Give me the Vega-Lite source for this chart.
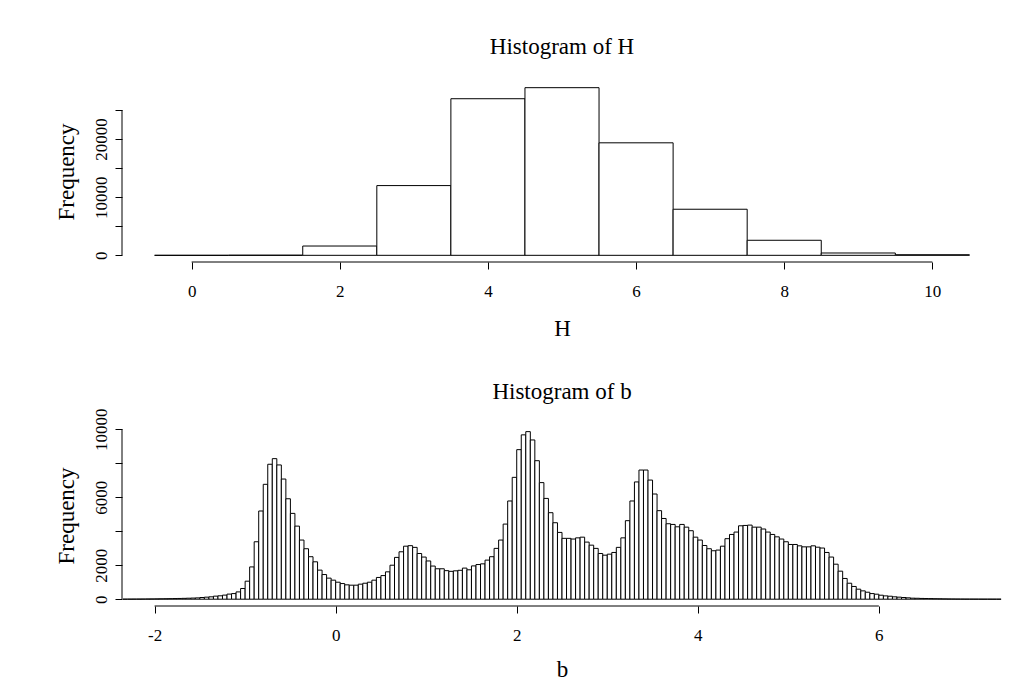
{
  "$schema": "https://vega.github.io/schema/vega-lite/v6.json",
  "background": "white",
  "padding": {"left": 55, "top": 36, "right": 5, "bottom": 0},
  "spacing": 40,
  "config": {
    "font": "Liberation Serif",
    "view": {"stroke": null},
    "axis": {"grid": false, "domain": false, "tickColor": "black", "labelColor": "black", "titleColor": "black", "titleFontWeight": "normal", "labelFontSize": 17, "titleFontSize": 23, "tickSize": 7, "labelFont": "Liberation Serif", "titleFont": "Liberation Serif", "labelOverlap": false},
    "title": {"fontSize": 23, "fontWeight": "normal", "color": "black", "font": "Liberation Serif"}
  },
  "vconcat": [
    {
      "title": {"text": "Histogram of H", "offset": 22, "frame": "group"},
      "width": 880,
      "height": 181,
      "data": {"values": [
        {"lo": -0.5, "hi": 0.5, "n": 0},
        {"lo": 0.5, "hi": 1.5, "n": 20},
        {"lo": 1.5, "hi": 2.5, "n": 1600},
        {"lo": 2.5, "hi": 3.5, "n": 12000},
        {"lo": 3.5, "hi": 4.5, "n": 26950},
        {"lo": 4.5, "hi": 5.5, "n": 28850},
        {"lo": 5.5, "hi": 6.5, "n": 19360},
        {"lo": 6.5, "hi": 7.5, "n": 7930},
        {"lo": 7.5, "hi": 8.5, "n": 2590},
        {"lo": 8.5, "hi": 9.5, "n": 400},
        {"lo": 9.5, "hi": 10.5, "n": 100}
      ]},
      "layer": [
        {
          "mark": {"type": "rect", "fill": "white", "stroke": "black", "strokeWidth": 1},
          "encoding": {
            "x": {"field": "lo", "type": "quantitative", "scale": {"domain": [-0.94, 10.94], "nice": false, "zero": false},
                  "axis": {"values": [0, 2, 4, 6, 8, 10], "tickCount": 30, "labelExpr": "'' + datum.value", "labelOverlap": false, "title": "H", "labelPadding": 14, "titlePadding": 18}},
            "x2": {"field": "hi"},
            "y": {"field": "n", "type": "quantitative", "scale": {"domain": [-1150, 30000], "nice": false, "zero": false},
                  "axis": {"values": [0, 5000, 10000, 15000, 20000, 25000], "tickCount": 30, "labelExpr": "datum.value % 10000 === 0 ? '' + datum.value : ''", "labelOverlap": false, "labelAngle": -90, "labelAlign": "center", "labelBaseline": "bottom", "labelPadding": 5, "title": "Frequency", "titlePadding": 14}},
            "y2": {"datum": 0}
          }
        },
        {
          "data": {"values": [{}]},
          "mark": {"type": "rule", "color": "black", "strokeWidth": 1},
          "encoding": {"x": {"datum": 0}, "x2": {"datum": 10}, "y": {"datum": -1150}}
        },
        {
          "data": {"values": [{}]},
          "mark": {"type": "rule", "color": "black", "strokeWidth": 1},
          "encoding": {"x": {"datum": -0.94}, "y": {"datum": 0}, "y2": {"datum": 25000}}
        }
      ]
    },
    {
      "title": {"text": "Histogram of b", "offset": 4, "frame": "group"},
      "width": 880,
      "height": 181,
      "data": {"values": [
        {"lo": -2.35, "hi": -2.3, "n": 2},
        {"lo": -2.3, "hi": -2.25, "n": 4},
        {"lo": -2.25, "hi": -2.2, "n": 6},
        {"lo": -2.2, "hi": -2.15, "n": 8},
        {"lo": -2.15, "hi": -2.1, "n": 10},
        {"lo": -2.1, "hi": -2.05, "n": 13},
        {"lo": -2.05, "hi": -2.0, "n": 16},
        {"lo": -2.0, "hi": -1.95, "n": 20},
        {"lo": -1.95, "hi": -1.9, "n": 24},
        {"lo": -1.9, "hi": -1.85, "n": 28},
        {"lo": -1.85, "hi": -1.8, "n": 33},
        {"lo": -1.8, "hi": -1.75, "n": 38},
        {"lo": -1.75, "hi": -1.7, "n": 44},
        {"lo": -1.7, "hi": -1.65, "n": 50},
        {"lo": -1.65, "hi": -1.6, "n": 58},
        {"lo": -1.6, "hi": -1.55, "n": 67},
        {"lo": -1.55, "hi": -1.5, "n": 78},
        {"lo": -1.5, "hi": -1.45, "n": 100},
        {"lo": -1.45, "hi": -1.4, "n": 120},
        {"lo": -1.4, "hi": -1.35, "n": 140},
        {"lo": -1.35, "hi": -1.3, "n": 180},
        {"lo": -1.3, "hi": -1.25, "n": 200},
        {"lo": -1.25, "hi": -1.2, "n": 240},
        {"lo": -1.2, "hi": -1.15, "n": 300},
        {"lo": -1.15, "hi": -1.1, "n": 330},
        {"lo": -1.1, "hi": -1.05, "n": 430},
        {"lo": -1.05, "hi": -1.0, "n": 630},
        {"lo": -1.0, "hi": -0.95, "n": 1060},
        {"lo": -0.95, "hi": -0.9, "n": 1900},
        {"lo": -0.9, "hi": -0.85, "n": 3380},
        {"lo": -0.85, "hi": -0.8, "n": 5190},
        {"lo": -0.8, "hi": -0.75, "n": 6760},
        {"lo": -0.75, "hi": -0.7, "n": 7940},
        {"lo": -0.7, "hi": -0.65, "n": 8270},
        {"lo": -0.65, "hi": -0.6, "n": 7900},
        {"lo": -0.6, "hi": -0.55, "n": 7070},
        {"lo": -0.55, "hi": -0.5, "n": 5910},
        {"lo": -0.5, "hi": -0.45, "n": 5050},
        {"lo": -0.45, "hi": -0.4, "n": 4300},
        {"lo": -0.4, "hi": -0.35, "n": 3480},
        {"lo": -0.35, "hi": -0.3, "n": 2970},
        {"lo": -0.3, "hi": -0.25, "n": 2500},
        {"lo": -0.25, "hi": -0.2, "n": 2200},
        {"lo": -0.2, "hi": -0.15, "n": 1710},
        {"lo": -0.15, "hi": -0.1, "n": 1450},
        {"lo": -0.1, "hi": -0.05, "n": 1240},
        {"lo": -0.05, "hi": 0.0, "n": 1120},
        {"lo": 0.0, "hi": 0.05, "n": 1000},
        {"lo": 0.05, "hi": 0.1, "n": 920},
        {"lo": 0.1, "hi": 0.15, "n": 845},
        {"lo": 0.15, "hi": 0.2, "n": 825},
        {"lo": 0.2, "hi": 0.25, "n": 825},
        {"lo": 0.25, "hi": 0.3, "n": 885},
        {"lo": 0.3, "hi": 0.35, "n": 940},
        {"lo": 0.35, "hi": 0.4, "n": 1000},
        {"lo": 0.4, "hi": 0.45, "n": 1120},
        {"lo": 0.45, "hi": 0.5, "n": 1280},
        {"lo": 0.5, "hi": 0.55, "n": 1390},
        {"lo": 0.55, "hi": 0.6, "n": 1610},
        {"lo": 0.6, "hi": 0.65, "n": 2000},
        {"lo": 0.65, "hi": 0.7, "n": 2460},
        {"lo": 0.7, "hi": 0.75, "n": 2790},
        {"lo": 0.75, "hi": 0.8, "n": 3120},
        {"lo": 0.8, "hi": 0.85, "n": 3150},
        {"lo": 0.85, "hi": 0.9, "n": 3050},
        {"lo": 0.9, "hi": 0.95, "n": 2690},
        {"lo": 0.95, "hi": 1.0, "n": 2480},
        {"lo": 1.0, "hi": 1.05, "n": 2250},
        {"lo": 1.05, "hi": 1.1, "n": 1950},
        {"lo": 1.1, "hi": 1.15, "n": 1790},
        {"lo": 1.15, "hi": 1.2, "n": 1790},
        {"lo": 1.2, "hi": 1.25, "n": 1680},
        {"lo": 1.25, "hi": 1.3, "n": 1640},
        {"lo": 1.3, "hi": 1.35, "n": 1670},
        {"lo": 1.35, "hi": 1.4, "n": 1700},
        {"lo": 1.4, "hi": 1.45, "n": 1830},
        {"lo": 1.45, "hi": 1.5, "n": 1730},
        {"lo": 1.5, "hi": 1.55, "n": 1960},
        {"lo": 1.55, "hi": 1.6, "n": 2040},
        {"lo": 1.6, "hi": 1.65, "n": 2080},
        {"lo": 1.65, "hi": 1.7, "n": 2300},
        {"lo": 1.7, "hi": 1.75, "n": 2500},
        {"lo": 1.75, "hi": 1.8, "n": 2990},
        {"lo": 1.8, "hi": 1.85, "n": 3480},
        {"lo": 1.85, "hi": 1.9, "n": 4420},
        {"lo": 1.9, "hi": 1.95, "n": 5780},
        {"lo": 1.95, "hi": 2.0, "n": 7170},
        {"lo": 2.0, "hi": 2.05, "n": 8800},
        {"lo": 2.05, "hi": 2.1, "n": 9670},
        {"lo": 2.1, "hi": 2.15, "n": 9860},
        {"lo": 2.15, "hi": 2.2, "n": 9370},
        {"lo": 2.2, "hi": 2.25, "n": 8150},
        {"lo": 2.25, "hi": 2.3, "n": 6860},
        {"lo": 2.3, "hi": 2.35, "n": 5930},
        {"lo": 2.35, "hi": 2.4, "n": 5090},
        {"lo": 2.4, "hi": 2.45, "n": 4500},
        {"lo": 2.45, "hi": 2.5, "n": 3930},
        {"lo": 2.5, "hi": 2.55, "n": 3580},
        {"lo": 2.55, "hi": 2.6, "n": 3580},
        {"lo": 2.6, "hi": 2.65, "n": 3540},
        {"lo": 2.65, "hi": 2.7, "n": 3610},
        {"lo": 2.7, "hi": 2.75, "n": 3650},
        {"lo": 2.75, "hi": 2.8, "n": 3360},
        {"lo": 2.8, "hi": 2.85, "n": 3180},
        {"lo": 2.85, "hi": 2.9, "n": 2990},
        {"lo": 2.9, "hi": 2.95, "n": 2690},
        {"lo": 2.95, "hi": 3.0, "n": 2590},
        {"lo": 3.0, "hi": 3.05, "n": 2650},
        {"lo": 3.05, "hi": 3.1, "n": 2750},
        {"lo": 3.1, "hi": 3.15, "n": 3050},
        {"lo": 3.15, "hi": 3.2, "n": 3610},
        {"lo": 3.2, "hi": 3.25, "n": 4620},
        {"lo": 3.25, "hi": 3.3, "n": 5780},
        {"lo": 3.3, "hi": 3.35, "n": 6900},
        {"lo": 3.35, "hi": 3.4, "n": 7600},
        {"lo": 3.4, "hi": 3.45, "n": 7600},
        {"lo": 3.45, "hi": 3.5, "n": 7010},
        {"lo": 3.5, "hi": 3.55, "n": 6190},
        {"lo": 3.55, "hi": 3.6, "n": 5210},
        {"lo": 3.6, "hi": 3.65, "n": 4750},
        {"lo": 3.65, "hi": 3.7, "n": 4440},
        {"lo": 3.7, "hi": 3.75, "n": 4400},
        {"lo": 3.75, "hi": 3.8, "n": 4260},
        {"lo": 3.8, "hi": 3.85, "n": 4400},
        {"lo": 3.85, "hi": 3.9, "n": 4240},
        {"lo": 3.9, "hi": 3.95, "n": 4030},
        {"lo": 3.95, "hi": 4.0, "n": 3650},
        {"lo": 4.0, "hi": 4.05, "n": 3480},
        {"lo": 4.05, "hi": 4.1, "n": 3160},
        {"lo": 4.1, "hi": 4.15, "n": 2970},
        {"lo": 4.15, "hi": 4.2, "n": 2850},
        {"lo": 4.2, "hi": 4.25, "n": 2890},
        {"lo": 4.25, "hi": 4.3, "n": 3120},
        {"lo": 4.3, "hi": 4.35, "n": 3560},
        {"lo": 4.35, "hi": 4.4, "n": 3810},
        {"lo": 4.4, "hi": 4.45, "n": 3950},
        {"lo": 4.45, "hi": 4.5, "n": 4320},
        {"lo": 4.5, "hi": 4.55, "n": 4340},
        {"lo": 4.55, "hi": 4.6, "n": 4360},
        {"lo": 4.6, "hi": 4.65, "n": 4240},
        {"lo": 4.65, "hi": 4.7, "n": 4240},
        {"lo": 4.7, "hi": 4.75, "n": 4130},
        {"lo": 4.75, "hi": 4.8, "n": 3950},
        {"lo": 4.8, "hi": 4.85, "n": 3810},
        {"lo": 4.85, "hi": 4.9, "n": 3670},
        {"lo": 4.9, "hi": 4.95, "n": 3540},
        {"lo": 4.95, "hi": 5.0, "n": 3380},
        {"lo": 5.0, "hi": 5.05, "n": 3220},
        {"lo": 5.05, "hi": 5.1, "n": 3220},
        {"lo": 5.1, "hi": 5.15, "n": 3140},
        {"lo": 5.15, "hi": 5.2, "n": 3080},
        {"lo": 5.2, "hi": 5.25, "n": 3080},
        {"lo": 5.25, "hi": 5.3, "n": 3140},
        {"lo": 5.3, "hi": 5.35, "n": 3060},
        {"lo": 5.35, "hi": 5.4, "n": 3010},
        {"lo": 5.4, "hi": 5.45, "n": 2750},
        {"lo": 5.45, "hi": 5.5, "n": 2480},
        {"lo": 5.5, "hi": 5.55, "n": 2060},
        {"lo": 5.55, "hi": 5.6, "n": 1650},
        {"lo": 5.6, "hi": 5.65, "n": 1220},
        {"lo": 5.65, "hi": 5.7, "n": 940},
        {"lo": 5.7, "hi": 5.75, "n": 750},
        {"lo": 5.75, "hi": 5.8, "n": 590},
        {"lo": 5.8, "hi": 5.85, "n": 490},
        {"lo": 5.85, "hi": 5.9, "n": 410},
        {"lo": 5.9, "hi": 5.95, "n": 330},
        {"lo": 5.95, "hi": 6.0, "n": 295},
        {"lo": 6.0, "hi": 6.05, "n": 235},
        {"lo": 6.05, "hi": 6.1, "n": 195},
        {"lo": 6.1, "hi": 6.15, "n": 175},
        {"lo": 6.15, "hi": 6.2, "n": 140},
        {"lo": 6.2, "hi": 6.25, "n": 120},
        {"lo": 6.25, "hi": 6.3, "n": 100},
        {"lo": 6.3, "hi": 6.35, "n": 80},
        {"lo": 6.35, "hi": 6.4, "n": 60},
        {"lo": 6.4, "hi": 6.45, "n": 55},
        {"lo": 6.45, "hi": 6.5, "n": 45},
        {"lo": 6.5, "hi": 6.55, "n": 40},
        {"lo": 6.55, "hi": 6.6, "n": 35},
        {"lo": 6.6, "hi": 6.65, "n": 30},
        {"lo": 6.65, "hi": 6.7, "n": 25},
        {"lo": 6.7, "hi": 6.75, "n": 20},
        {"lo": 6.75, "hi": 6.8, "n": 15},
        {"lo": 6.8, "hi": 6.85, "n": 12},
        {"lo": 6.85, "hi": 6.9, "n": 10},
        {"lo": 6.9, "hi": 6.95, "n": 8},
        {"lo": 6.95, "hi": 7.0, "n": 6},
        {"lo": 7.0, "hi": 7.05, "n": 5},
        {"lo": 7.05, "hi": 7.1, "n": 4},
        {"lo": 7.1, "hi": 7.15, "n": 3},
        {"lo": 7.15, "hi": 7.2, "n": 2},
        {"lo": 7.2, "hi": 7.25, "n": 2},
        {"lo": 7.25, "hi": 7.3, "n": 1},
        {"lo": 7.3, "hi": 7.35, "n": 1}
      ]},
      "layer": [
        {
          "mark": {"type": "rect", "fill": "white", "stroke": "black", "strokeWidth": 1},
          "encoding": {
            "x": {"field": "lo", "type": "quantitative", "scale": {"domain": [-2.36, 7.36], "nice": false, "zero": false},
                  "axis": {"values": [-2, 0, 2, 4, 6], "tickCount": 30, "labelExpr": "'' + datum.value", "labelOverlap": false, "title": "b", "labelPadding": 14, "titlePadding": 15}},
            "x2": {"field": "hi"},
            "y": {"field": "n", "type": "quantitative", "scale": {"domain": [-400, 10250], "nice": false, "zero": false},
                  "axis": {"values": [0, 2000, 4000, 6000, 8000, 10000], "tickCount": 30, "labelExpr": "(datum.value % 4000 === 0 && datum.value > 0) ? '' : '' + datum.value", "labelOverlap": false, "labelAngle": -90, "labelAlign": "center", "labelBaseline": "bottom", "labelPadding": 5, "title": "Frequency", "titlePadding": 14}},
            "y2": {"datum": 0}
          }
        },
        {
          "data": {"values": [{}]},
          "mark": {"type": "rule", "color": "black", "strokeWidth": 1},
          "encoding": {"x": {"datum": -2}, "x2": {"datum": 6}, "y": {"datum": -400}}
        },
        {
          "data": {"values": [{}]},
          "mark": {"type": "rule", "color": "black", "strokeWidth": 1},
          "encoding": {"x": {"datum": -2.36}, "y": {"datum": 0}, "y2": {"datum": 10000}}
        }
      ]
    }
  ]
}
